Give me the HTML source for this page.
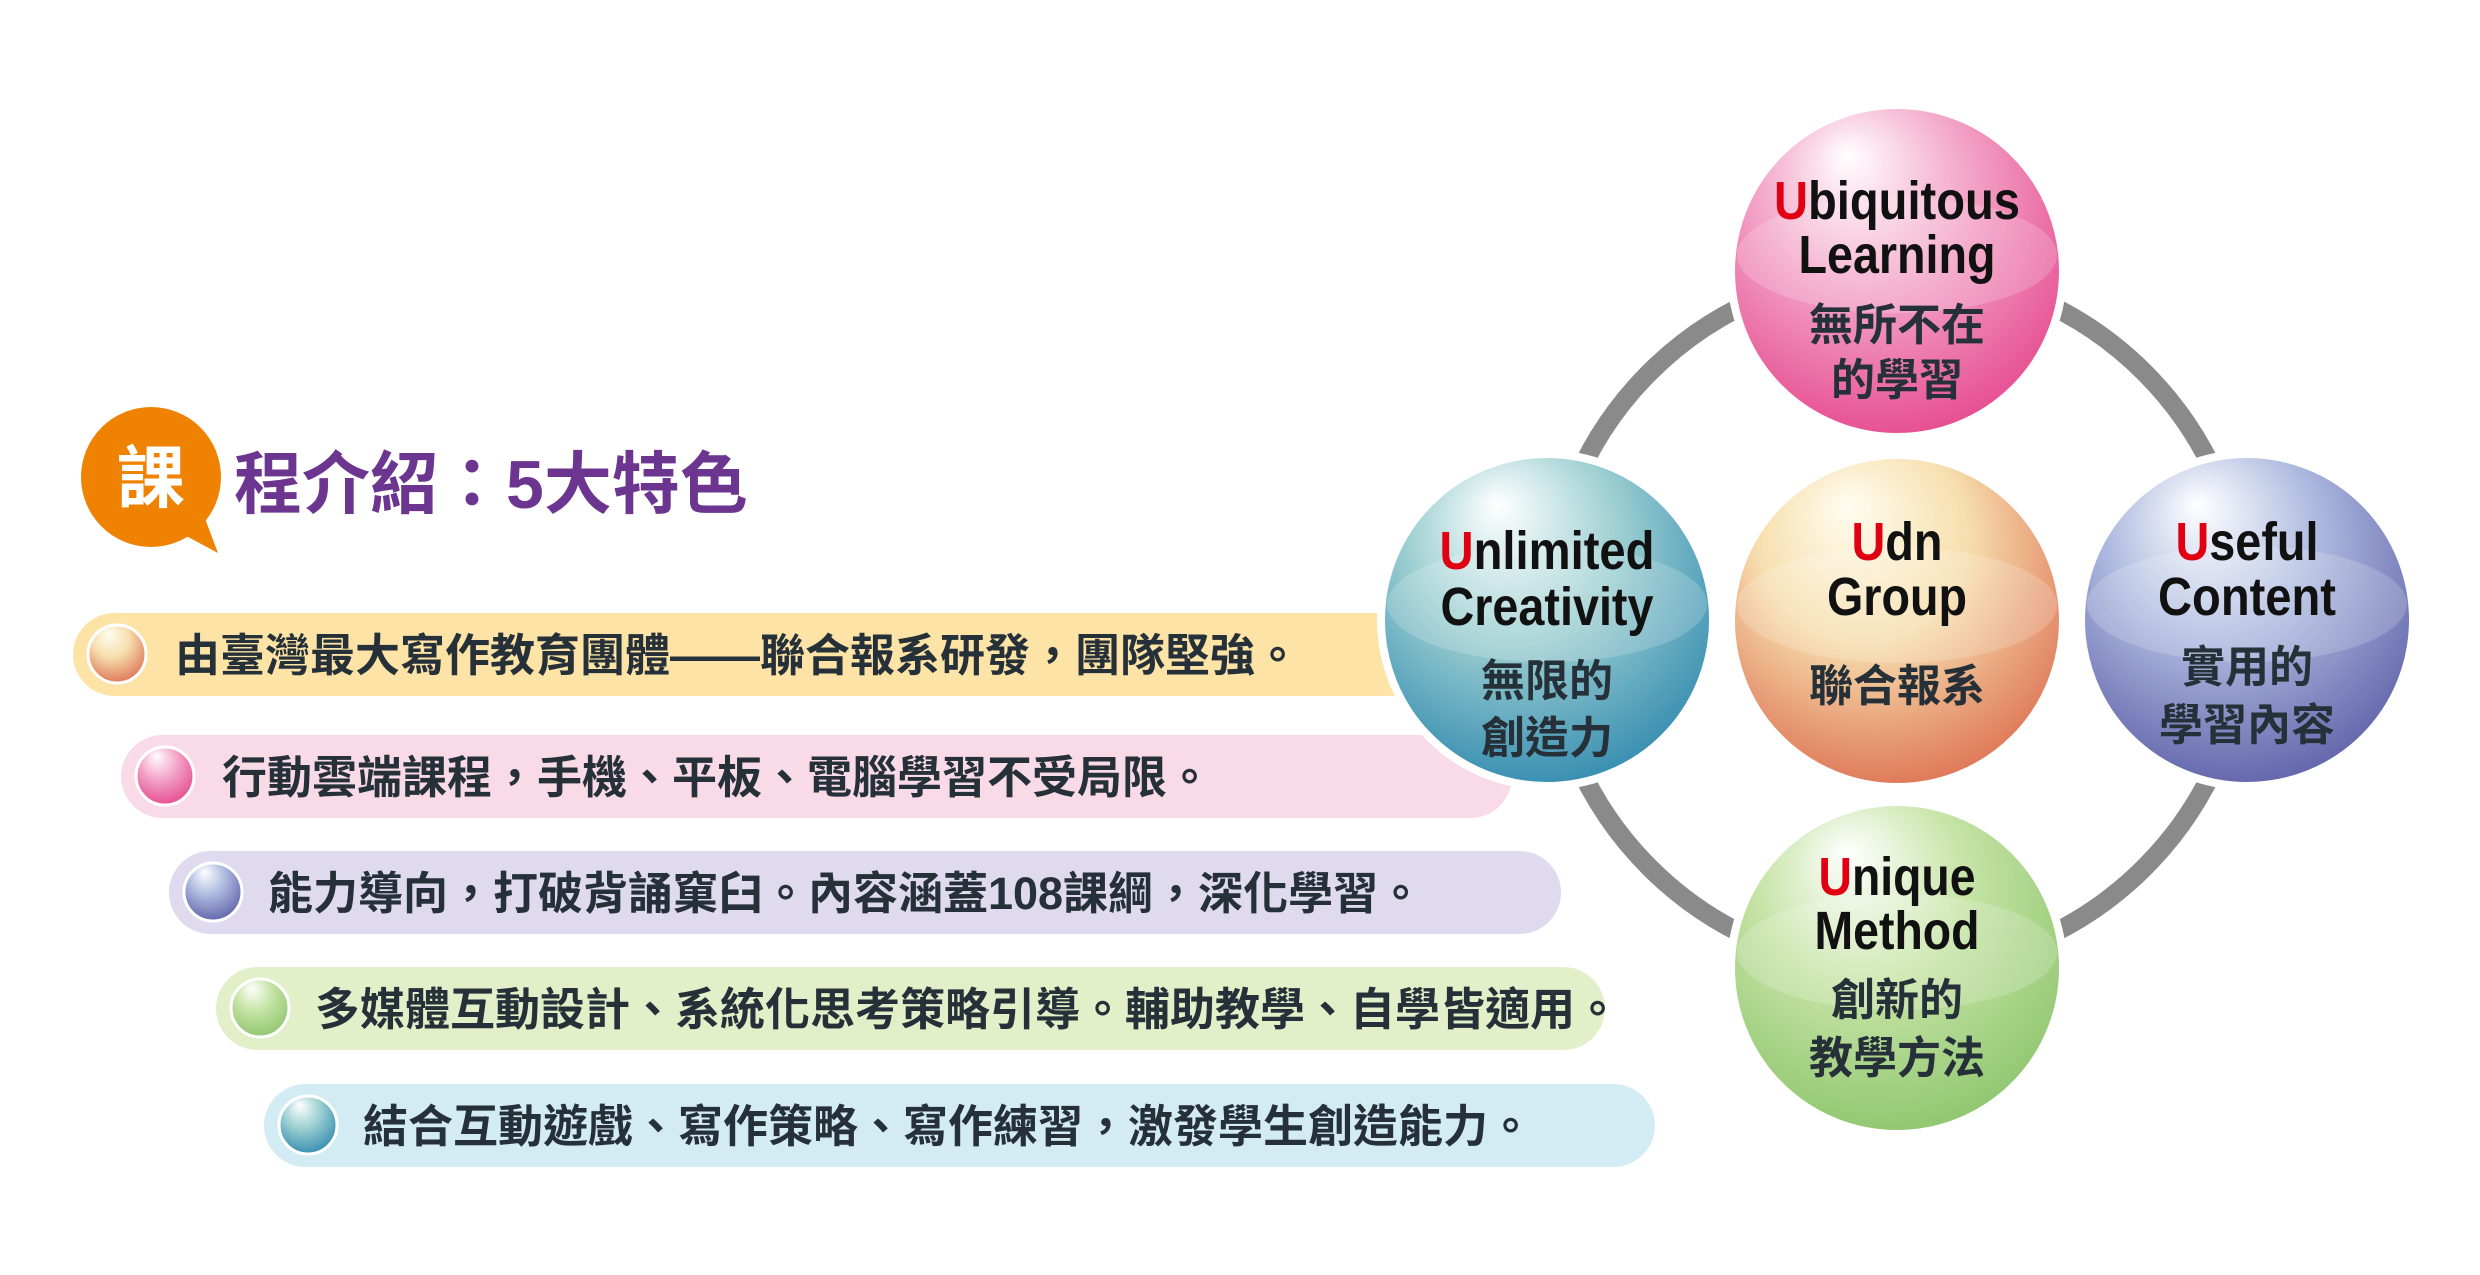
<!DOCTYPE html>
<html><head><meta charset="utf-8"><style>
html,body{margin:0;padding:0;background:#fff}
svg{display:block}
text{font-family:"Liberation Sans","Noto Sans CJK TC",sans-serif;font-weight:bold}
</style></head><body>
<svg width="2480" height="1275" viewBox="0 0 2480 1275" xmlns="http://www.w3.org/2000/svg">
<defs>
<radialGradient id="gPink" cx="0.45" cy="0.35" r="0.7" fx="0.35" fy="0.15"><stop offset="0" stop-color="#ffffff"/><stop offset="0.45" stop-color="#f3a6c8"/><stop offset="1" stop-color="#e5468c"/></radialGradient>
<radialGradient id="gTeal" cx="0.45" cy="0.35" r="0.7" fx="0.35" fy="0.15"><stop offset="0" stop-color="#ffffff"/><stop offset="0.45" stop-color="#9fd0d2"/><stop offset="1" stop-color="#2e88ae"/></radialGradient>
<radialGradient id="gOrange" cx="0.45" cy="0.35" r="0.7" fx="0.35" fy="0.15"><stop offset="0" stop-color="#fffdf0"/><stop offset="0.45" stop-color="#f7dfae"/><stop offset="1" stop-color="#dc6e50"/></radialGradient>
<radialGradient id="gBlue" cx="0.45" cy="0.35" r="0.7" fx="0.35" fy="0.15"><stop offset="0" stop-color="#ffffff"/><stop offset="0.45" stop-color="#aebbe0"/><stop offset="1" stop-color="#5c5ea6"/></radialGradient>
<radialGradient id="gGreen" cx="0.45" cy="0.35" r="0.7" fx="0.35" fy="0.15"><stop offset="0" stop-color="#ffffff"/><stop offset="0.45" stop-color="#c6e4a6"/><stop offset="1" stop-color="#8cc46c"/></radialGradient>
</defs>

<!-- title -->
<circle cx="151" cy="477" r="70" fill="#ef8200"/>
<polygon points="175,530 218,553 198,500" fill="#ef8200"/>
<text x="151" y="502" font-size="68" fill="#fff" text-anchor="middle">課</text>
<text x="234" y="508" font-size="68" fill="#6b3590">程介紹：5大特色</text>

<!-- bars -->
<rect x="73" y="613" width="1400" height="83" rx="41.5" fill="#fde4a6"/>
<rect x="121" y="735" width="1391" height="83" rx="41.5" fill="#f9dbe8"/>
<rect x="169" y="851" width="1392" height="83" rx="41.5" fill="#dfdaee"/>
<rect x="216" y="967" width="1389" height="83" rx="41.5" fill="#e3efc9"/>
<rect x="264" y="1084" width="1391" height="83" rx="41.5" fill="#d3ecf3"/>

<g stroke="#fff" stroke-width="3">
<circle cx="117" cy="654" r="29" fill="url(#gOrange)"/>
<circle cx="165" cy="776" r="29" fill="url(#gPink)"/>
<circle cx="213" cy="892" r="29" fill="url(#gBlue)"/>
<circle cx="260" cy="1008" r="29" fill="url(#gGreen)"/>
<circle cx="308" cy="1125" r="29" fill="url(#gTeal)"/>
</g>
<g fill="#263038" font-size="45">
<text x="175" y="671">由臺灣最大寫作教育團體——聯合報系研發，團隊堅強。</text>
<text x="222" y="793">行動雲端課程，手機、平板、電腦學習不受局限。</text>
<text x="268" y="909">能力導向，打破背誦窠臼。內容涵蓋108課綱，深化學習。</text>
<text x="315" y="1025">多媒體互動設計、系統化思考策略引導。輔助教學、自學皆適用。</text>
<text x="363" y="1142">結合互動遊戲、寫作策略、寫作練習，激發學生創造能力。</text>
</g>

<!-- ring -->
<circle cx="1897" cy="620" r="350" fill="none" stroke="#8a8a8a" stroke-width="19"/>

<!-- spheres -->
<g stroke="#fff" stroke-width="8">
<circle cx="1897" cy="271" r="166" fill="url(#gPink)"/>
<circle cx="1547" cy="620" r="166" fill="url(#gTeal)"/>
<circle cx="1897" cy="621" r="166" fill="url(#gOrange)"/>
<circle cx="2247" cy="620" r="166" fill="url(#gBlue)"/>
<circle cx="1897" cy="968" r="166" fill="url(#gGreen)"/>
</g>
<g fill="#ffffff" opacity="0.18">
<ellipse cx="1897" cy="255" rx="160" ry="58"/>
<ellipse cx="1547" cy="604" rx="160" ry="58"/>
<ellipse cx="1897" cy="605" rx="160" ry="58"/>
<ellipse cx="2247" cy="604" rx="160" ry="58"/>
<ellipse cx="1897" cy="952" rx="160" ry="58"/>
</g>

<g text-anchor="middle" font-size="54" fill="#111">
<text x="1897" y="219" textLength="246" lengthAdjust="spacingAndGlyphs"><tspan fill="#e00012">U</tspan>biquitous</text>
<text x="1897" y="273" textLength="197" lengthAdjust="spacingAndGlyphs">Learning</text>
<text x="1547" y="569" textLength="215" lengthAdjust="spacingAndGlyphs"><tspan fill="#e00012">U</tspan>nlimited</text>
<text x="1547" y="625" textLength="213" lengthAdjust="spacingAndGlyphs">Creativity</text>
<text x="1897" y="560" textLength="91" lengthAdjust="spacingAndGlyphs"><tspan fill="#e00012">U</tspan>dn</text>
<text x="1897" y="615" textLength="140" lengthAdjust="spacingAndGlyphs">Group</text>
<text x="2247" y="560" textLength="143" lengthAdjust="spacingAndGlyphs"><tspan fill="#e00012">U</tspan>seful</text>
<text x="2247" y="615" textLength="178" lengthAdjust="spacingAndGlyphs">Content</text>
<text x="1897" y="895" textLength="157" lengthAdjust="spacingAndGlyphs"><tspan fill="#e00012">U</tspan>nique</text>
<text x="1897" y="949" textLength="165" lengthAdjust="spacingAndGlyphs">Method</text>
</g>
<g text-anchor="middle" font-size="44" fill="#263038">
<text x="1897" y="340">無所不在</text>
<text x="1897" y="395">的學習</text>
<text x="1547" y="696">無限的</text>
<text x="1547" y="753">創造力</text>
<text x="1897" y="701">聯合報系</text>
<text x="2247" y="682">實用的</text>
<text x="2247" y="740">學習內容</text>
<text x="1897" y="1015">創新的</text>
<text x="1897" y="1073">教學方法</text>
</g>
</svg>
</body></html>
